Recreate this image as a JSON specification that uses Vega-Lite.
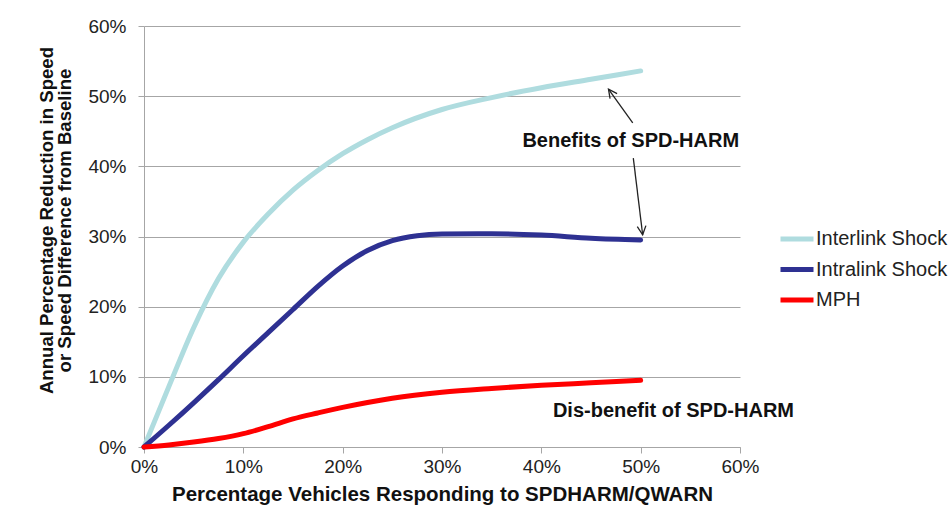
{
  "$schema": "https://vega.github.io/schema/vega-lite/v6.json",
  "width": 596,
  "height": 421,
  "autosize": {"type": "none"},
  "padding": {"left": 144, "top": 26, "right": 212, "bottom": 79},
  "background": "white",
  "config": {"view": {"stroke": null}, "font": "Liberation Sans"},
  "datasets": {
    "curves": [
      {"series": "Interlink Shock", "pct": 0, "value": 0},
      {"series": "Interlink Shock", "pct": 2.5, "value": 8.6},
      {"series": "Interlink Shock", "pct": 5, "value": 17},
      {"series": "Interlink Shock", "pct": 7.5, "value": 24},
      {"series": "Interlink Shock", "pct": 10, "value": 29.2},
      {"series": "Interlink Shock", "pct": 12.5, "value": 33.2},
      {"series": "Interlink Shock", "pct": 15, "value": 36.6},
      {"series": "Interlink Shock", "pct": 17.5, "value": 39.4},
      {"series": "Interlink Shock", "pct": 20, "value": 41.8},
      {"series": "Interlink Shock", "pct": 22.5, "value": 43.8},
      {"series": "Interlink Shock", "pct": 25, "value": 45.5},
      {"series": "Interlink Shock", "pct": 30, "value": 48.1},
      {"series": "Interlink Shock", "pct": 35, "value": 49.8},
      {"series": "Interlink Shock", "pct": 40, "value": 51.2},
      {"series": "Interlink Shock", "pct": 45, "value": 52.4},
      {"series": "Interlink Shock", "pct": 50, "value": 53.6},
      {"series": "Intralink Shock", "pct": 0, "value": 0},
      {"series": "Intralink Shock", "pct": 2.5, "value": 3.1},
      {"series": "Intralink Shock", "pct": 5, "value": 6.3},
      {"series": "Intralink Shock", "pct": 7.5, "value": 9.6},
      {"series": "Intralink Shock", "pct": 10, "value": 13},
      {"series": "Intralink Shock", "pct": 12.5, "value": 16.3},
      {"series": "Intralink Shock", "pct": 15, "value": 19.6},
      {"series": "Intralink Shock", "pct": 17.5, "value": 22.9},
      {"series": "Intralink Shock", "pct": 20, "value": 25.8},
      {"series": "Intralink Shock", "pct": 22.5, "value": 28},
      {"series": "Intralink Shock", "pct": 25, "value": 29.4},
      {"series": "Intralink Shock", "pct": 27.5, "value": 30.1},
      {"series": "Intralink Shock", "pct": 30, "value": 30.35},
      {"series": "Intralink Shock", "pct": 35, "value": 30.4},
      {"series": "Intralink Shock", "pct": 40, "value": 30.2},
      {"series": "Intralink Shock", "pct": 45, "value": 29.75},
      {"series": "Intralink Shock", "pct": 50, "value": 29.5},
      {"series": "MPH", "pct": 0, "value": 0},
      {"series": "MPH", "pct": 2.5, "value": 0.3},
      {"series": "MPH", "pct": 5, "value": 0.7},
      {"series": "MPH", "pct": 7.5, "value": 1.2},
      {"series": "MPH", "pct": 10, "value": 1.9},
      {"series": "MPH", "pct": 12.5, "value": 2.9},
      {"series": "MPH", "pct": 15, "value": 4},
      {"series": "MPH", "pct": 17.5, "value": 4.85},
      {"series": "MPH", "pct": 20, "value": 5.65},
      {"series": "MPH", "pct": 22.5, "value": 6.35},
      {"series": "MPH", "pct": 25, "value": 6.95},
      {"series": "MPH", "pct": 30, "value": 7.8},
      {"series": "MPH", "pct": 35, "value": 8.35},
      {"series": "MPH", "pct": 40, "value": 8.8},
      {"series": "MPH", "pct": 45, "value": 9.15},
      {"series": "MPH", "pct": 50, "value": 9.5}
    ],
    "arrows": [
      {"id": "a1", "x": 49.2, "y": 46.2, "x2": 46.76, "y2": 51.0},
      {"id": "a2", "x": 49.26, "y": 41.17, "x2": 50.2, "y2": 30.25}
    ],
    "notes": [
      {"label": "Benefits of SPD-HARM", "x": 49.0, "y": 43.6},
      {"label": "Dis-benefit of SPD-HARM", "x": 53.3, "y": 5.2}
    ]
  },
  "layer": [
    {
      "data": {"name": "curves"},
      "mark": {"type": "line", "interpolate": "monotone", "strokeWidth": 5, "strokeCap": "round"},
      "encoding": {
        "x": {
          "field": "pct", "type": "quantitative",
          "scale": {"domain": [0, 60], "nice": false},
          "axis": {
            "title": "Percentage Vehicles Responding to SPDHARM/QWARN",
            "values": [0, 10, 20, 30, 40, 50, 60],
            "labelExpr": "datum.value + '%'",
            "grid": false,
            "domainColor": "#A6A6A6",
            "tickColor": "#A6A6A6",
            "tickSize": 6,
            "labelFontSize": 19,
            "labelColor": "#222222",
            "labelPadding": 4,
            "labelFlush": false,
            "titleFontSize": 20.5,
            "titleFontWeight": "bold",
            "titleColor": "#111111",
            "titlePadding": 8
          }
        },
        "y": {
          "field": "value", "type": "quantitative",
          "scale": {"domain": [0, 60], "nice": false},
          "axis": {
            "title": ["Annual Percentage Reduction in Speed", "or Speed Difference from Baseline"],
            "values": [0, 10, 20, 30, 40, 50, 60],
            "labelExpr": "datum.value + '%'",
            "grid": true,
            "gridColor": "#A6A6A6",
            "domainColor": "#A6A6A6",
            "tickColor": "#A6A6A6",
            "tickSize": 6,
            "labelFontSize": 19,
            "labelColor": "#222222",
            "labelPadding": 12,
            "titleFontSize": 18.6,
            "titleFontWeight": "bold",
            "titleColor": "#111111",
            "titleLineHeight": 18,
            "titleAngle": -90,
            "titleBaseline": "top",
            "titleAlign": "center",
            "titleX": -107,
            "titleY": 194
          }
        },
        "color": {
          "field": "series", "type": "nominal",
          "scale": {"domain": ["Interlink Shock", "Intralink Shock", "MPH"], "range": ["#AFDCDF", "#2E3192", "#FF0000"]},
          "legend": {
            "title": null,
            "orient": "none",
            "legendX": 634,
            "legendY": 194,
            "symbolType": "stroke",
            "symbolSize": 1089,
            "symbolStrokeWidth": 5,
            "labelFontSize": 20,
            "labelColor": "#222222",
            "labelOffset": 0,
            "rowPadding": 1.5
          }
        }
      }
    },
    {
      "data": {"name": "arrows"},
      "mark": {"type": "rule", "color": "#222222", "strokeWidth": 1.3, "clip": false},
      "encoding": {
        "x": {"field": "x", "type": "quantitative"},
        "y": {"field": "y", "type": "quantitative"},
        "x2": {"field": "x2"},
        "y2": {"field": "y2"}
      }
    },
    {
      "data": {"name": "arrows"},
      "transform": [{"filter": "datum.id == 'a1'"}],
      "mark": {"type": "point", "shape": "M-0.5,1L0,0L0.5,1", "filled": false, "stroke": "#222222", "strokeWidth": 1.3, "size": 300, "angle": -36, "opacity": 1},
      "encoding": {
        "x": {"field": "x2", "type": "quantitative"},
        "y": {"field": "y2", "type": "quantitative"}
      }
    },
    {
      "data": {"name": "arrows"},
      "transform": [{"filter": "datum.id == 'a2'"}],
      "mark": {"type": "point", "shape": "M-0.5,1L0,0L0.5,1", "filled": false, "stroke": "#222222", "strokeWidth": 1.3, "size": 300, "angle": 173, "opacity": 1},
      "encoding": {
        "x": {"field": "x2", "type": "quantitative"},
        "y": {"field": "y2", "type": "quantitative"}
      }
    },
    {
      "data": {"name": "notes"},
      "mark": {"type": "text", "fontSize": 20, "fontWeight": "bold", "color": "#111111", "align": "center", "baseline": "middle", "clip": false},
      "encoding": {
        "x": {"field": "x", "type": "quantitative"},
        "y": {"field": "y", "type": "quantitative"},
        "text": {"field": "label"}
      }
    }
  ]
}
